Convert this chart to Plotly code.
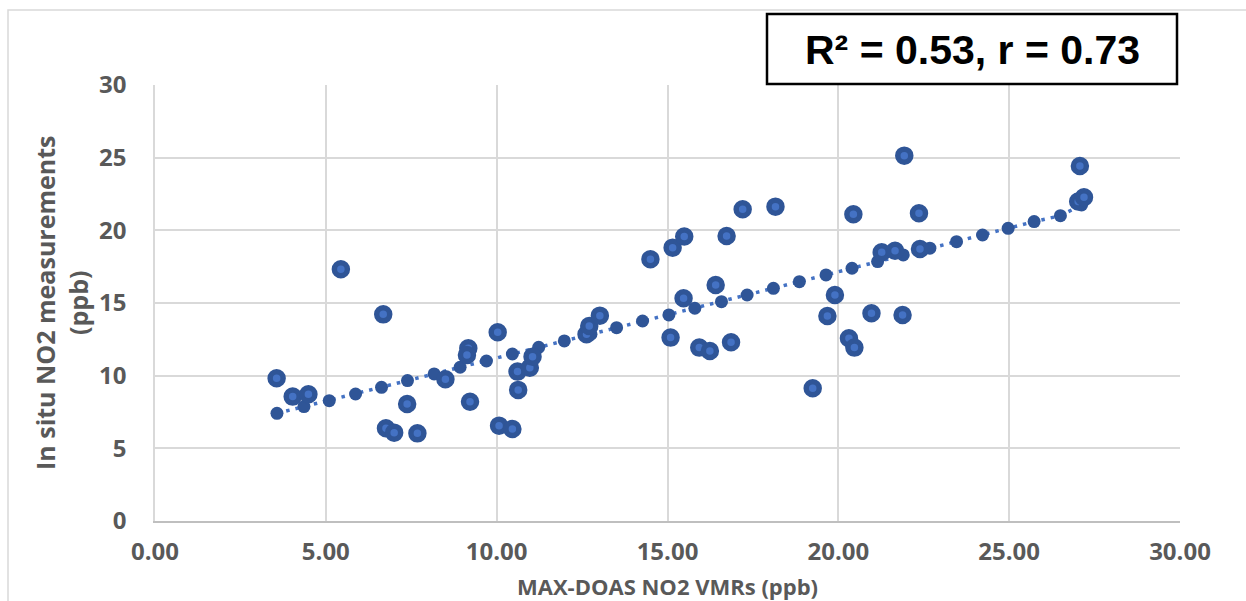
import plotly.graph_objects as go

# Paired NO2 observations (ppb)
maxdoas_ppb = [3.56, 4.03, 4.49, 5.44, 6.68, 6.76, 7.00, 7.38, 7.68, 8.50,
               9.17, 9.13, 9.22, 10.03, 10.07, 10.46, 10.61, 10.63, 10.97, 11.05,
               12.63, 12.71, 13.02, 14.50, 15.09, 15.15, 15.47, 15.49, 15.93, 16.24,
               16.41, 16.73, 16.86, 17.20, 18.16, 19.25, 19.68, 19.90, 20.31, 20.47,
               20.44, 20.97, 21.27, 21.66, 21.88, 21.93, 22.36, 22.39, 27.07, 27.02,
               27.19]
insitu_ppb = [9.82, 8.56, 8.72, 17.32, 14.22, 6.38, 6.08, 8.05, 6.03, 9.75,
              11.89, 11.42, 8.21, 12.99, 6.56, 6.33, 10.28, 9.02, 10.55, 11.31,
              12.85, 13.42, 14.13, 18.01, 12.62, 18.81, 15.33, 19.57, 11.93, 11.70,
              16.24, 19.61, 12.30, 21.45, 21.63, 9.13, 14.11, 15.55, 12.57, 11.93,
              21.11, 14.29, 18.49, 18.60, 14.18, 25.14, 21.18, 18.72, 24.43, 21.98,
              22.28]

# Regression line points
fit_x = [3.57, 4.36, 5.10, 5.87, 6.63, 7.39, 8.17, 8.93, 9.70, 10.46,
         11.23, 11.98, 12.76, 13.51, 14.27, 15.04, 15.80, 16.58, 17.33, 18.10,
         18.86, 19.64, 20.40, 21.15, 21.90, 22.68, 23.46, 24.22, 24.97, 25.73,
         26.50, 27.12]
fit_y = [7.41, 7.87, 8.28, 8.74, 9.20, 9.66, 10.12, 10.58, 11.01, 11.49,
         11.95, 12.39, 12.85, 13.30, 13.76, 14.18, 14.64, 15.09, 15.55, 16.01,
         16.47, 16.93, 17.39, 17.85, 18.31, 18.77, 19.22, 19.68, 20.14, 20.60,
         21.01, 21.75]

x_tick_vals = [0, 5, 10, 15, 20, 25, 30]
x_tick_text = ["0.00", "5.00", "10.00", "15.00", "20.00", "25.00", "30.00"]
y_tick_vals = [0, 5, 10, 15, 20, 25, 30]
y_tick_text = ["0", "5", "10", "15", "20", "25", "30"]

stats_label = "R\u00b2 = 0.53, r = 0.73"

DARK = "#2F5597"
MID = "#4472C4"
GREY = "#595959"
GRID = "#D9D9D9"

W, H = 1246, 601
L, R, T, B = 155, 66, 85, 80
pw, ph = W - L - R, H - T - B


def px(xp):
    return (xp - L) / pw


def py(yp):
    return (H - B - yp) / ph


fig = go.Figure()

fig.add_trace(go.Scatter(
    x=fit_x, y=fit_y, mode="lines",
    line=dict(color=MID, width=3.5, dash="3.5px,6px"),
    hoverinfo="skip", showlegend=False,
))
fig.add_trace(go.Scatter(
    x=fit_x, y=fit_y, mode="markers",
    marker=dict(size=13, color=DARK, line=dict(width=0)),
    showlegend=False,
))
fig.add_trace(go.Scatter(
    x=maxdoas_ppb, y=insitu_ppb, mode="markers",
    marker=dict(size=13, color=MID, line=dict(color=DARK, width=5.5)),
    showlegend=False,
))

tick_font = dict(family="Open Sans", size=24, color=GREY, weight="bold")

fig.update_xaxes(
    range=[0, 30], tickvals=x_tick_vals, ticktext=x_tick_text,
    showgrid=True, gridcolor=GRID, gridwidth=1.5,
    showline=True, linecolor="#BFBFBF", linewidth=1.5,
    zeroline=False, ticks="", tickfont=tick_font, ticklabelstandoff=8,
)
fig.update_yaxes(
    range=[0, 30], tickvals=y_tick_vals, ticktext=y_tick_text,
    showgrid=True, gridcolor=GRID, gridwidth=1.5,
    showline=True, linecolor=GRID, linewidth=1.5,
    zeroline=False, ticks="", tickfont=tick_font, ticklabelstandoff=22,
)

fig.update_layout(
    width=W, height=H, autosize=False,
    margin=dict(l=L, r=R, t=T, b=B),
    plot_bgcolor="white", paper_bgcolor="white",
    shapes=[
        # outer frame
        dict(type="rect", xref="paper", yref="paper",
             x0=px(8), x1=px(1260), y0=py(615), y1=py(10),
             line=dict(color=GRID, width=1.5), fillcolor="rgba(0,0,0,0)", layer="above"),
        # statistics box
        dict(type="rect", xref="paper", yref="paper",
             x0=px(767), x1=px(1177), y0=py(84), y1=py(14),
             line=dict(color="black", width=2.5), fillcolor="white", layer="above"),
    ],
    annotations=[
        dict(text=stats_label, xref="paper", yref="paper", x=px(972), y=py(50),
             xanchor="center", yanchor="middle", showarrow=False,
             font=dict(family="Liberation Sans", size=41, color="black", weight="bold")),
        dict(text="In situ NO2 measurements<br>(ppb)", xref="paper", yref="paper",
             x=px(61), y=0.5, xanchor="center", yanchor="middle", textangle=-90,
             showarrow=False,
             font=dict(family="Open Sans", size=25, color=GREY, weight="bold")),
        dict(text="MAX-DOAS NO2 VMRs (ppb)", xref="paper", yref="paper",
             x=0.5, y=py(586), xanchor="center", yanchor="middle", showarrow=False,
             font=dict(family="Open Sans", size=22, color=GREY, weight="bold")),
    ],
)

fig.write_html("out.html")
